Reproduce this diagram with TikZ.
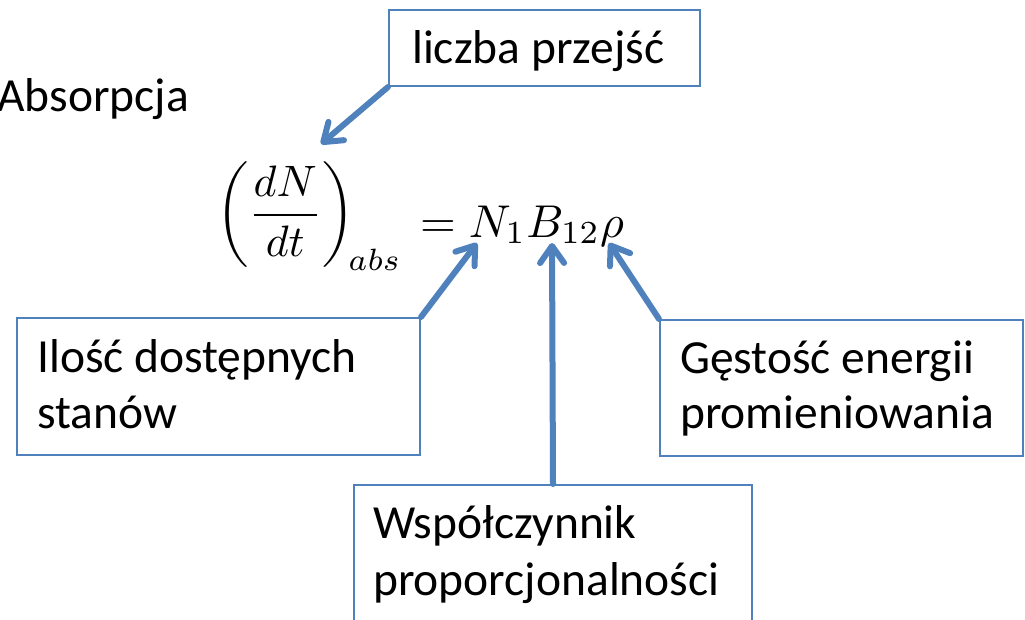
\documentclass[tikz,border=0pt]{standalone}
\usepackage{graphicx}
\usepackage{fontspec}
\setmainfont{Carlito}
\usetikzlibrary{arrows.meta}
\definecolor{obl}{HTML}{4F81BD}
\tikzset{
  box/.style={draw=obl, line width=2pt, fill=white, inner sep=0pt, anchor=north west},
  lbl/.style={anchor=base west, inner sep=0pt, font=\fontsize{47.5}{57}\selectfont},
  eqs/.style={inner sep=0pt},
  arr/.style={draw=obl, line width=6pt, line cap=round, -{Straight Barb[length=17pt,width=24pt,round]}},
}
\begin{document}
\begin{tikzpicture}[x=1pt,y=-1pt]
\useasboundingbox (0,0) rectangle (1025,619);
\clip (0,0) rectangle (1025,619);
% boxes
\node[box, minimum width=311pt, minimum height=76pt] (liczba) at (388,9) {};
\node[box, minimum width=403pt, minimum height=137pt] (ilosc) at (16,317) {};
\node[box, minimum width=363pt, minimum height=136pt] (gestosc) at (659,319) {};
\node[box, minimum width=398pt, minimum height=150pt] (wspol) at (353,484) {};
% texts
\node[lbl] (tabs) at (-3,111) {Absorpcja};
\node[lbl] (tliczba) at (412,63) {liczba przejść};
\node[lbl] (tilosc1) at (37,372) {Ilość dostępnych};
\node[lbl] (tilosc2) at (37,428) {stanów};
\node[lbl] (tgest1) at (680,373) {Gęstość energii};
\node[lbl] (tgest2) at (680,428) {promieniowania};
\node[lbl] (twsp1) at (373,538) {Współczynnik};
\node[lbl] (twsp2) at (373,595) {proporcjonalności};
% equation
\node[eqs, anchor=base east] (eqL) at (402,226) {\scalebox{4.4}{$\displaystyle\left(\frac{dN}{dt}\right)_{\!abs}$}};
\node[eqs, anchor=base west] (eqR) at (420,237) {\scalebox{4.6}{$=N_1B_{12}\rho$}};
% arrow tips
\coordinate (tipL) at (321,144);
\coordinate (tipN) at (477,243);
\coordinate (tipB) at (552,243);
\coordinate (tipR) at (609,243);
% connectors
\draw[arr] (liczba.south west) -- (tipL);
\draw[arr] (ilosc.north east) -- (tipN);
\draw[arr] (wspol.north) -- (tipB);
\draw[arr] (gestosc.north west) -- (tipR);
\end{tikzpicture}
\end{document}
